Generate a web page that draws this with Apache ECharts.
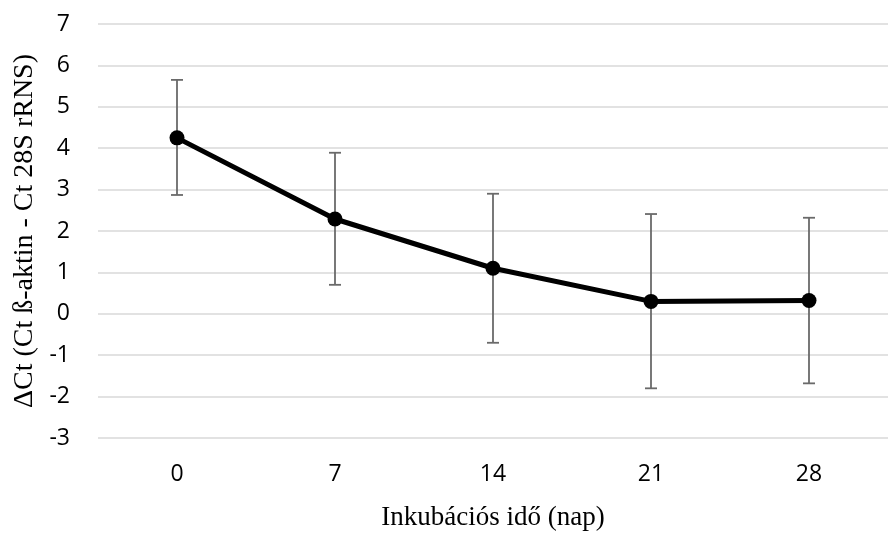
<!DOCTYPE html>
<html>
<head>
<meta charset="utf-8">
<script src="https://cdn.jsdelivr.net/npm/echarts@6/dist/echarts.min.js"></script>
<style>
  html, body { margin: 0; padding: 0; background: #fff; }
  #chart { width: 888px; height: 536px; }
</style>
</head>
<body>
<div id="chart"></div>
<script>
// 数据
var days = ['0', '7', '14', '21', '28'];
var meanDct = [4.25, 2.29, 1.1, 0.3, 0.32];
var errLow = [2.87, 0.70, -0.70, -1.80, -1.68];
var errHigh = [5.65, 3.89, 2.90, 2.41, 2.32];
var yTicks = { min: -3, max: 7, step: 1 };

(function () {
  var myChart = echarts.init(document.getElementById('chart'));

  // 误差线数据 [索引, 下限, 上限]
  var errData = days.map(function (d, i) {
    return [i, errLow[i], errHigh[i]];
  });

  var option = {
    animation: false,
    grid: {
      left: 98,
      top: 24,
      width: 805,
      height: 416
    },
    xAxis: {
      type: 'category',
      data: days,
      boundaryGap: true,
      name: 'Inkubációs idő (nap)',
      nameLocation: 'middle',
      nameGap: 66,
      nameTextStyle: {
        fontFamily: 'Liberation Serif',
        fontSize: 27,
        color: '#000'
      },
      axisLine: { show: false },
      axisTick: { show: false },
      axisLabel: {
        margin: 25,
        fontFamily: 'Open Sans',
        fontSize: 23,
        color: '#000'
      }
    },
    yAxis: {
      type: 'value',
      min: yTicks.min,
      max: yTicks.max,
      interval: yTicks.step,
      name: 'ΔCt (Ct ß-aktin - Ct 28S rRNS)',
      nameLocation: 'middle',
      nameGap: 58,
      nameTextStyle: {
        fontFamily: 'Liberation Serif',
        fontSize: 28,
        color: '#000'
      },
      axisLine: { show: false },
      axisTick: { show: false },
      axisLabel: {
        margin: 28,
        fontFamily: 'Open Sans',
        fontSize: 23,
        color: '#000'
      },
      splitLine: {
        lineStyle: { color: '#d9d9d9', width: 1.5 }
      }
    },
    series: [
      {
        // 误差线
        type: 'custom',
        data: errData,
        z: 1,
        renderItem: function (params, api) {
          var i = api.value(0);
          var lo = api.coord([i, api.value(1)]);
          var hi = api.coord([i, api.value(2)]);
          var cap = 6;
          var style = { stroke: '#6a6a6a', lineWidth: 1.8 };
          return {
            type: 'group',
            children: [
              { type: 'line', shape: { x1: lo[0], y1: lo[1], x2: hi[0], y2: hi[1] }, style: style },
              { type: 'line', shape: { x1: hi[0] - cap, y1: hi[1], x2: hi[0] + cap, y2: hi[1] }, style: style },
              { type: 'line', shape: { x1: lo[0] - cap, y1: lo[1], x2: lo[0] + cap, y2: lo[1] }, style: style }
            ]
          };
        }
      },
      {
        type: 'line',
        data: meanDct,
        z: 2,
        symbol: 'circle',
        symbolSize: 15,
        lineStyle: { color: '#000', width: 5 },
        itemStyle: { color: '#000' }
      }
    ]
  };

  myChart.setOption(option);
  window.addEventListener('resize', function () {
    myChart.resize();
  });
})();
</script>
</body>
</html>
